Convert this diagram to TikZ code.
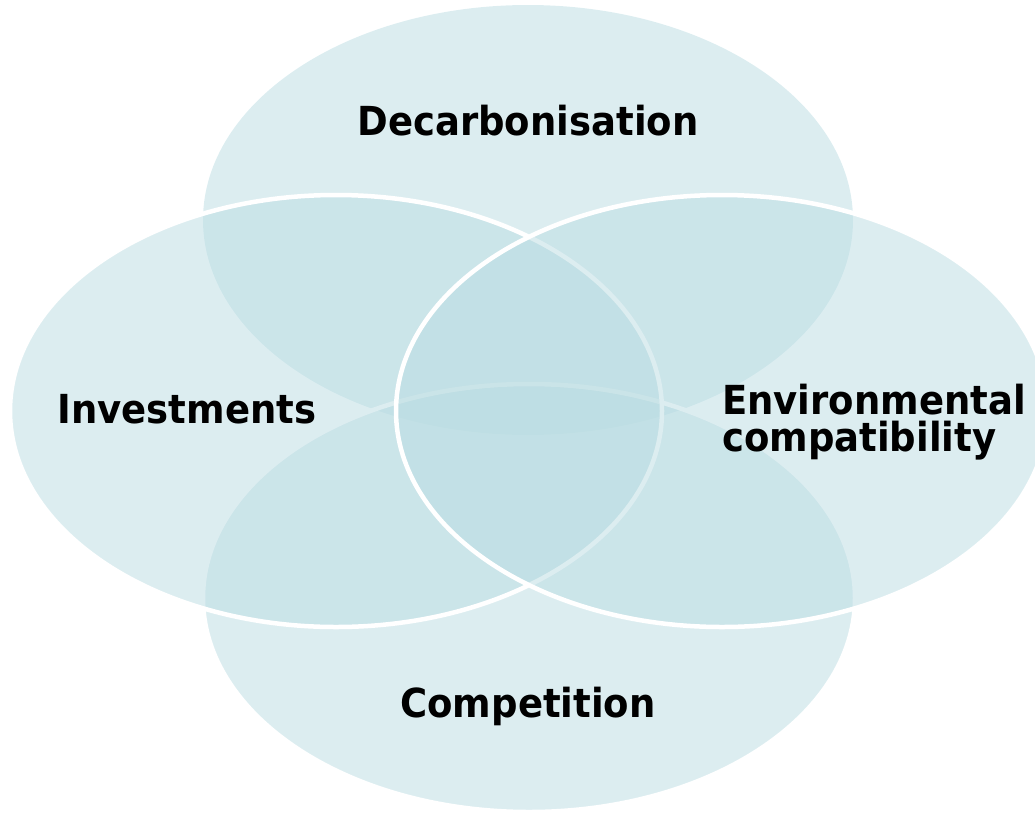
\documentclass[tikz,border=0pt]{standalone}
\usepackage{fontspec}
\setmainfont{DejaVu Sans}
\newfontfamily\vennfont[FakeStretch=0.925]{DejaVu Sans}
\definecolor{venncol}{RGB}{186,220,226}
\tikzset{
  vennset/.style={fill=venncol, fill opacity=0.5},
  vennrim/.style={vennset, draw=white, draw opacity=1, line width=4.5},
  vennlabel/.style={inner sep=0pt, font=\vennfont\fontsize{40}{37}\selectfont\bfseries, text=black},
}
\begin{document}
\begin{tikzpicture}[x=1pt,y=1pt,yscale=-1,xscale=1]
        \useasboundingbox (0,0) rectangle (1035,814);
        \clip (0,0) rectangle (1035,814);
        
        % centres of the four sets
        \coordinate (ctop) at (528,220);
        \coordinate (cbot) at (529,598);
        \coordinate (cleft) at (336,411);
        \coordinate (cright) at (722,411);
        
        %Shape: Ellipse top
        \path [vennset] (ctop) ellipse [x radius=325, y radius=215];
        %Shape: Ellipse bottom
        \path [vennrim] (cbot) ellipse [x radius=326, y radius=214];
        %Shape: Ellipse left
        \path [vennrim] (cleft) ellipse [x radius=326, y radius=216];
        %Shape: Ellipse right
        \path [vennrim] (cright) ellipse [x radius=326, y radius=216];
        
        % Text Node
        \node [vennlabel, anchor=base] (decarb) at (528,135) {Decarbonisation};
        % Text Node
        \node [vennlabel, anchor=base] (invest) at (187,423) {Investments};
        % Text Node
        \node [vennlabel, anchor=west, align=left] (environ) at (722,422) {Environmental\\compatibility};
        % Text Node
        \node [vennlabel, anchor=base] (compet) at (528,717) {Competition};
        
        \end{tikzpicture}
\end{document}
